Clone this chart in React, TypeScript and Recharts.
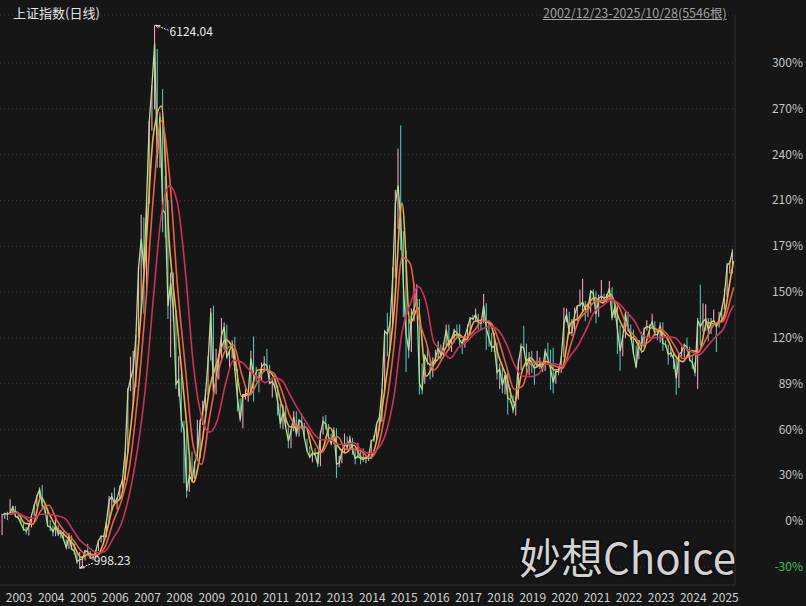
import React from "react";
import {
  Bar,
  CartesianGrid,
  Cell,
  ComposedChart,
  Line,
  ReferenceDot,
  XAxis,
  YAxis,
} from "recharts";

// 上证指数 月度数据（2003-01 ~ 2025-10），从图上读取的近似值
const BASE = 1442; // 0% 对应的指数点位
const START_YEAR = 2003;
const PREV_CLOSE = 1357;

const CLOSE = [
  1500, 1512, 1510, 1521, 1576, 1487, 1476, 1421, 1367, 1348, 1397, 1497,
  1590, 1675, 1742, 1595, 1555, 1399, 1386, 1342, 1396, 1320, 1340, 1266,
  1191, 1306, 1181, 1159, 1060, 1080, 1083, 1162, 1155, 1092, 1099, 1161,
  1258, 1299, 1298, 1440, 1641, 1672, 1612, 1658, 1752, 1837, 2099, 2675,
  2786, 2881, 3183, 3841, 4109, 3820, 4471, 5218, 5552, 5954, 4871, 5262,
  4383, 4348, 3472, 3693, 3433, 2736, 2775, 2397, 2293, 1729, 1871, 1821,
  1991, 2082, 2373, 2477, 2633, 2959, 3412, 2667, 2779, 2996, 3195, 3277,
  2989, 3051, 3110, 2870, 2592, 2398, 2638, 2639, 2656, 2979, 2820, 2808,
  2790, 2905, 2928, 2911, 2743, 2762, 2701, 2567, 2359, 2468, 2333, 2199,
  2292, 2428, 2262, 2396, 2373, 2225, 2103, 2047, 2086, 2068, 1980, 2269,
  2385, 2359, 2236, 2177, 2300, 1979, 1993, 2098, 2174, 2141, 2220, 2116,
  2033, 2056, 2033, 2026, 2039, 2048, 2201, 2217, 2364, 2420, 2683, 3235,
  3210, 3310, 3748, 4441, 4612, 4277, 3664, 3206, 3053, 3383, 3445, 3539,
  2738, 2688, 3004, 2938, 2917, 2930, 2979, 3085, 3005, 3100, 3250, 3104,
  3159, 3242, 3223, 3155, 3117, 3192, 3273, 3361, 3349, 3393, 3317, 3307,
  3481, 3259, 3169, 3082, 3095, 2847, 2876, 2725, 2821, 2603, 2588, 2494,
  2585, 2941, 3091, 3078, 2899, 2979, 2932, 2886, 2905, 2929, 2872, 3050,
  2977, 2880, 2750, 2860, 2852, 2985, 3310, 3396, 3218, 3225, 3392, 3473,
  3483, 3509, 3442, 3447, 3615, 3591, 3397, 3544, 3568, 3547, 3564, 3640,
  3361, 3462, 3252, 3047, 3186, 3399, 3253, 3202, 3024, 2893, 3151, 3089,
  3255, 3280, 3273, 3323, 3205, 3202, 3291, 3120, 3110, 3018, 3030, 2975,
  2789, 3015, 3041, 3105, 3087, 2967, 2939, 2842, 3336, 3279, 3326, 3352,
  3250, 3321, 3336, 3279, 3347, 3444, 3573, 3858, 3883, 3988,
];

const HIGH = [
  1512, 1525, 1530, 1649, 1586, 1585, 1502, 1483, 1424, 1388, 1410, 1500,
  1600, 1690, 1760, 1783, 1600, 1560, 1450, 1400, 1500, 1400, 1360, 1350,
  1270, 1330, 1310, 1230, 1160, 1150, 1110, 1170, 1230, 1160, 1110, 1170,
  1260, 1310, 1310, 1440, 1680, 1710, 1760, 1660, 1780, 1840, 2100, 2700,
  2995, 3050, 3200, 3850, 4335, 4310, 4480, 5220, 5560, 6124, 5900, 5300,
  5520, 4700, 4470, 3790, 3790, 3430, 3000, 2830, 2390, 2330, 2050, 2100,
  2010, 2400, 2400, 2580, 2690, 3000, 3455, 3478, 3070, 3020, 3360, 3320,
  3300, 3060, 3150, 3180, 2880, 2600, 2640, 2700, 2660, 3050, 3186, 2900,
  2850, 2940, 3000, 3067, 2920, 2780, 2830, 2720, 2550, 2540, 2530, 2330,
  2300, 2480, 2480, 2400, 2460, 2370, 2220, 2150, 2090, 2130, 2080, 2290,
  2430, 2444, 2360, 2270, 2330, 2320, 2060, 2100, 2270, 2240, 2250, 2230,
  2120, 2180, 2120, 2130, 2070, 2090, 2210, 2250, 2360, 2420, 2690, 3240,
  3410, 3330, 3840, 4570, 4960, 5178, 4180, 4000, 3350, 3450, 3680, 3680,
  3540, 2930, 3020, 3100, 2960, 2990, 3060, 3140, 3110, 3130, 3300, 3300,
  3170, 3260, 3300, 3300, 3160, 3200, 3300, 3370, 3390, 3450, 3400, 3320,
  3587, 3500, 3340, 3220, 3220, 3130, 2930, 2920, 2830, 2840, 2700, 2630,
  2620, 2970, 3120, 3288, 3120, 3040, 3050, 2930, 3050, 2990, 2940, 3070,
  3130, 3060, 3080, 2860, 2900, 3000, 3460, 3450, 3420, 3350, 3460, 3480,
  3630, 3731, 3520, 3480, 3620, 3630, 3610, 3580, 3720, 3590, 3590, 3710,
  3650, 3500, 3480, 3290, 3200, 3420, 3420, 3300, 3250, 3100, 3150, 3230,
  3270, 3340, 3300, 3400, 3330, 3250, 3320, 3320, 3150, 3110, 3090, 3040,
  2980, 3020, 3090, 3120, 3175, 3090, 3000, 2940, 3360, 3674, 3500, 3490,
  3360, 3360, 3440, 3290, 3420, 3460, 3640, 3880, 3900, 4010,
];

const LOW = [
  1311, 1464, 1453, 1505, 1515, 1480, 1461, 1419, 1350, 1316, 1307, 1382,
  1490, 1580, 1660, 1560, 1520, 1390, 1350, 1300, 1300, 1300, 1280, 1260,
  1190, 1180, 1170, 1130, 1040, 998, 1004, 1070, 1130, 1090, 1074, 1090,
  1160, 1240, 1260, 1290, 1420, 1540, 1590, 1550, 1650, 1750, 1830, 2090,
  2670, 2540, 2710, 3180, 3400, 3400, 3560, 4440, 5130, 5330, 4780, 4780,
  4170, 4120, 3350, 2990, 3330, 2690, 2620, 2280, 1800, 1664, 1720, 1810,
  1840, 2030, 2040, 2350, 2480, 2630, 2960, 2640, 2640, 2780, 2980, 3060,
  2970, 2890, 2980, 2860, 2480, 2380, 2320, 2590, 2570, 2650, 2570, 2760,
  2660, 2770, 2850, 2880, 2740, 2610, 2700, 2440, 2320, 2310, 2330, 2130,
  2130, 2290, 2240, 2240, 2310, 2220, 2100, 2040, 1999, 2060, 1950, 1960,
  2260, 2310, 2230, 2160, 2170, 1849, 1950, 1990, 2080, 2120, 2120, 2070,
  1980, 2040, 1980, 2000, 1990, 2010, 2030, 2190, 2220, 2300, 2380, 2680,
  3000, 3050, 3300, 3740, 4200, 4000, 3370, 2850, 2980, 3040, 3330, 3440,
  2638, 2640, 2740, 2920, 2780, 2800, 2950, 2980, 2970, 2990, 3100, 3050,
  3040, 3130, 3170, 3100, 3020, 3080, 3160, 3200, 3340, 3330, 3250, 3250,
  3310, 3060, 3090, 3040, 3040, 2780, 2690, 2650, 2640, 2449, 2560, 2460,
  2440, 2590, 2870, 3050, 2830, 2820, 2840, 2730, 2890, 2880, 2850, 2860,
  2970, 2680, 2650, 2740, 2820, 2840, 2990, 3320, 3200, 3190, 3210, 3330,
  3470, 3420, 3330, 3370, 3410, 3520, 3310, 3370, 3530, 3510, 3510, 3560,
  3340, 3360, 3020, 2863, 3000, 3170, 3230, 3150, 3020, 2885, 2970, 3030,
  3080, 3240, 3170, 3270, 3190, 3150, 3130, 3050, 3090, 2920, 2990, 2880,
  2635, 2700, 3000, 2990, 3050, 2950, 2880, 2810, 2690, 3100, 3230, 3240,
  3140, 3210, 3320, 3040, 3270, 3330, 3440, 3560, 3780, 3780,
];

// 均线（季度末读数）
const MA60 = [
  1507, 1528, 1421, 1414, 1669, 1516, 1375, 1309, 1226, 1100, 1133, 1117,
  1285, 1584, 1674, 2204, 2950, 3923, 5080, 5362, 4068, 3287, 2488, 1807,
  2149, 2690, 2953, 3156, 3050, 2620, 2644, 2869, 2874, 2805, 2542, 2333,
  2327, 2331, 2079, 2106, 2327, 2152, 2088, 2159, 2041, 2038, 2261, 2779,
  3423, 4443, 3308, 3456, 2810, 2928, 3023, 3151, 3208, 3155, 3328, 3339,
  3303, 3008, 2807, 2562, 2872, 2985, 2908, 2950, 2869, 2899, 3308, 3363,
  3478, 3551, 3503, 3584, 3358, 3211, 3160, 3044, 3269, 3243, 3174, 3008,
  2948, 3053, 3039, 3319, 3302, 3357, 3771, 3900,
];

const MA120 = [
  1507, 1518, 1475, 1418, 1542, 1593, 1446, 1342, 1267, 1163, 1117, 1125,
  1201, 1435, 1629, 1939, 2577, 3437, 4502, 5221, 4715, 3678, 2888, 2148,
  1978, 2419, 2821, 3054, 3103, 2835, 2632, 2757, 2872, 2840, 2674, 2438,
  2330, 2329, 2205, 2092, 2216, 2239, 2120, 2124, 2100, 2039, 2149, 2520,
  3101, 3933, 3876, 3382, 3133, 2869, 2976, 3087, 3180, 3181, 3241, 3333,
  3321, 3156, 2908, 2685, 2717, 2929, 2947, 2929, 2910, 2884, 3104, 3336,
  3421, 3515, 3527, 3543, 3471, 3285, 3185, 3102, 3157, 3256, 3209, 3091,
  2978, 3001, 3046, 3179, 3311, 3330, 3564, 3650,
];

const MA250 = [
  1507, 1518, 1486, 1468, 1508, 1505, 1494, 1467, 1356, 1252, 1192, 1144,
  1159, 1280, 1415, 1687, 2103, 2688, 3539, 4329, 4608, 4449, 3801, 2913,
  2433, 2283, 2400, 2737, 2962, 2945, 2868, 2796, 2752, 2798, 2773, 2639,
  2502, 2384, 2268, 2211, 2211, 2166, 2168, 2182, 2110, 2081, 2125, 2280,
  2625, 3227, 3488, 3657, 3504, 3125, 3054, 2978, 3078, 3134, 3210, 3257,
  3281, 3244, 3114, 2920, 2812, 2807, 2832, 2929, 2928, 2907, 3007, 3110,
  3262, 3425, 3474, 3529, 3499, 3414, 3328, 3193, 3171, 3179, 3183, 3174,
  3093, 3046, 3012, 3090, 3178, 3254, 3437, 3480,
];

const Y_TICKS = [300, 270, 240, 210, 180, 150, 120, 90, 60, 30, 0, -30];
const Y_LABELS = ["300%", "270%", "240%", "210%", "179%", "150%", "120%", "89%", "60%", "30%", "0%", "-30%"];
const YEAR_TICKS = Array.from({ length: 23 }, (_, i) => START_YEAR + i);

const PEAK = { t: 2007.79, v: 6124.04 };
const TROUGH = { t: 2005.43, v: 998.23 };

const FONT = '"Microsoft YaHei","Noto Sans CJK SC","Noto Sans",sans-serif';

const pct = (v: number) => (v / BASE - 1) * 100;

const monthly = CLOSE.map((c, i) => ({
  t: START_YEAR + (i + 0.5) / 12,
  c: pct(c),
  range: [pct(LOW[i]), pct(HIGH[i])],
  up: c >= (i ? CLOSE[i - 1] : PREV_CLOSE),
}));

const quarterT = (i: number, n: number) =>
  i === n - 1 ? 2025.83 : START_YEAR + (i + 1) / 4;

const toQuarterly = (arr: number[]) => arr.map((v, i) => ({ t: quarterT(i, arr.length), v: pct(v) }));

const ma60 = toQuarterly(MA60);
const ma120 = toQuarterly(MA120);
const ma250 = toQuarterly(MA250);

function YTick(props: any) {
  const { y, payload } = props;
  const idx = Y_TICKS.indexOf(payload.value);
  const neg = payload.value < 0;
  return (
    <text x={803} y={y} dy={4} textAnchor="end" fontSize={12} fontFamily={FONT} fill={neg ? "#3cc060" : "#c4c4c4"}>
      {Y_LABELS[idx]}
    </text>
  );
}

function XTick(props: any) {
  const { x, y, payload } = props;
  return (
    <text x={x + 5} y={y + 9} textAnchor="start" fontSize={12} fontFamily={FONT} fill="#d0d0d0">
      {payload.value}
    </text>
  );
}

// 最高/最低点标注：箭头指向极值，数字放在右侧
function Marker(props: any & { label: string; dir: "up" | "down" }) {
  const { cx, cy, label, dir } = props;
  if (cx == null || cy == null) return null;
  const sign = dir === "down" ? 1 : -1;
  const tx = cx + 15;
  const ty = cy + sign * 7;
  return (
    <g>
      <line x1={cx + 1} y1={cy} x2={tx - 1} y2={ty - sign * 2} stroke="#eee" strokeWidth={1} strokeDasharray="2 1" />
      <path
        d={`M${cx + 1},${cy} l5,${sign * 0.5} M${cx + 1},${cy} l3,${sign * 3}`}
        stroke="#eee"
        strokeWidth={1}
        fill="none"
      />
      <text x={tx} y={ty} dy={4} fontSize={12} fontFamily={FONT} fill="#eaeaea">
        {label}
      </text>
    </g>
  );
}

export default function App() {
  return (
    <div
      style={{
        position: "absolute",
        left: 0,
        top: 0,
        width: 806,
        height: 606,
        background: "#161616",
        overflow: "hidden",
        fontFamily: FONT,
      }}
    >
      <ComposedChart width={806} height={606} data={monthly} margin={{ top: 15, right: 0, bottom: 0, left: 0 }}>
        <CartesianGrid vertical={false} stroke="#3a3a3a" strokeDasharray="1 3" />
        <XAxis
          dataKey="t"
          type="number"
          domain={[2002.975, 2025.87]}
          allowDataOverflow
          ticks={YEAR_TICKS}
          interval={0}
          height={21}
          tick={<XTick />}
          tickLine={false}
          axisLine={{ stroke: "#2c2c2c" }}
        />
        <YAxis
          orientation="right"
          type="number"
          domain={[-41.79, 331.43]}
          allowDataOverflow
          ticks={Y_TICKS}
          interval={0}
          width={71}
          tick={<YTick />}
          tickLine={false}
          axisLine={{ stroke: "#333" }}
        />
        <Bar dataKey="range" barSize={3} isAnimationActive={false}>
          {monthly.map((d, i) => (
            <Cell key={i} fill={d.up ? "#eba2c0" : "#4fc2b6"} />
          ))}
        </Bar>
        <Line dataKey="c" type="linear" dot={false} stroke="#b6dc96" strokeWidth={1.3} isAnimationActive={false} />
        <Line data={ma60} dataKey="v" type="monotone" dot={false} stroke="#e9b444" strokeWidth={1.6} isAnimationActive={false} />
        <Line data={ma120} dataKey="v" type="monotone" dot={false} stroke="#e8604c" strokeWidth={1.6} isAnimationActive={false} />
        <Line data={ma250} dataKey="v" type="monotone" dot={false} stroke="#cc3358" strokeWidth={1.6} isAnimationActive={false} />
        <ReferenceDot
          x={PEAK.t}
          y={pct(PEAK.v)}
          r={0}
          shape={(p: any) => <Marker {...p} label={PEAK.v.toFixed(2)} dir="down" />}
        />
        <ReferenceDot
          x={TROUGH.t}
          y={pct(TROUGH.v)}
          r={0}
          shape={(p: any) => <Marker {...p} label={TROUGH.v.toFixed(2)} dir="up" />}
        />
      </ComposedChart>

      <div style={{ position: "absolute", left: 13, top: 3, fontSize: 13, color: "#e4e4e4" }}>上证指数(日线)</div>
      <div
        style={{
          position: "absolute",
          left: 543,
          top: 3,
          fontSize: 12.5,
          color: "#a0a0a0",
          textDecoration: "underline",
        }}
      >
        2002/12/23-2025/10/28(5546根)
      </div>
      <div
        style={{
          position: "absolute",
          left: 519,
          top: 530,
          fontSize: 42,
          color: "#d2d2d2",
          textShadow: "0 0 2px #000, 0 0 3px #000",
          lineHeight: "52px",
        }}
      >
        妙想Choice
      </div>
    </div>
  );
}
